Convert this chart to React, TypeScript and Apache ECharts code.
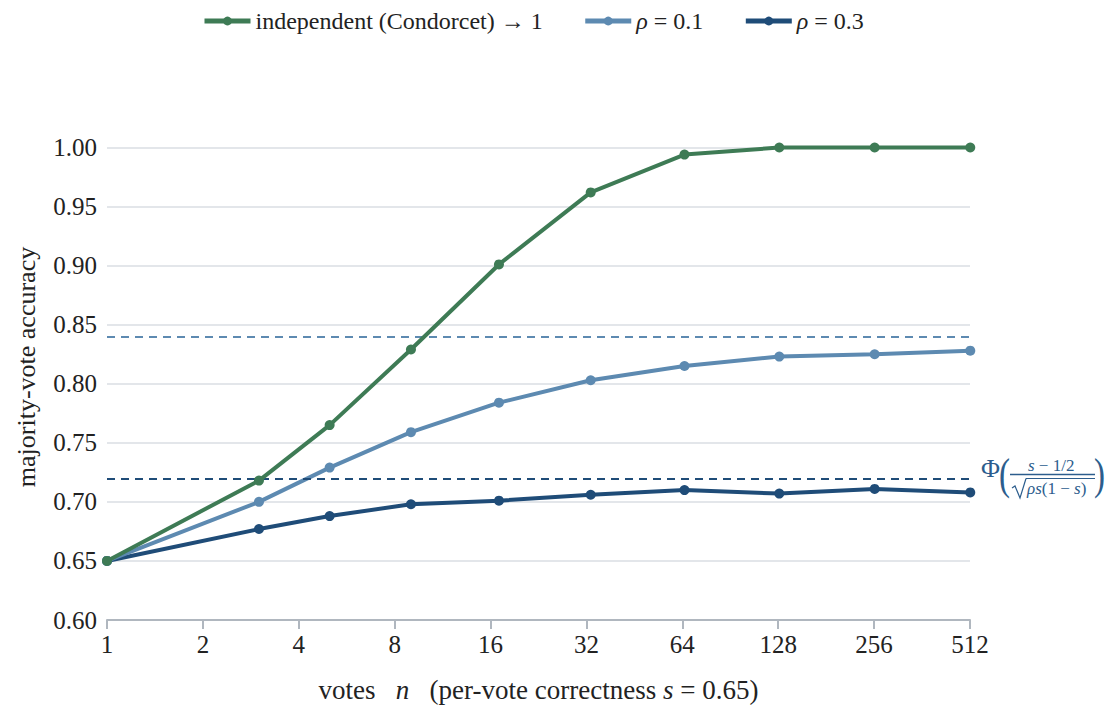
import React, { useEffect, useRef } from "react";
import * as echarts from "echarts";

const votes = [1, 3, 5, 9, 17, 33, 65, 129, 257, 513];
const independent = [0.65, 0.718, 0.765, 0.829, 0.901, 0.962, 0.994, 1.0, 1.0, 1.0];
const rho01 = [0.65, 0.7, 0.729, 0.759, 0.784, 0.803, 0.815, 0.823, 0.825, 0.828];
const rho03 = [0.65, 0.677, 0.688, 0.698, 0.701, 0.706, 0.71, 0.707, 0.711, 0.708];
const limit01 = 0.84;
const limit03 = 0.717;
const xTicks = [1, 2, 4, 8, 16, 32, 64, 128, 256, 512];
const seriesNames = ["independent (Condorcet) → 1", "ρ = 0.1", "ρ = 0.3"];
const yTitle = "majority-vote accuracy";

const GREEN = "#3e7b55";
const LIGHT = "#5d8ab1";
const DARK = "#1f4c78";
const FORMULA = "#2c5d8d";
const SERIF = "Liberation Serif";
const TXT = "#222";

export default function App() {
  const ref = useRef<HTMLDivElement>(null);
  useEffect(() => {
    if (!ref.current) return;
    const chart = echarts.init(ref.current, null, { renderer: "svg" });
    const mk = (vals: number[]) => votes.map((v, i) => [v, vals[i]]);
    const lineSeries = (name: string, vals: number[], color: string, z: number, limit?: number) => ({
      type: "line",
      name,
      data: mk(vals),
      symbol: "circle",
      symbolSize: 10,
      clip: false,
      z,
      lineStyle: { color, width: 4 },
      itemStyle: { color },
      markLine:
        limit === undefined
          ? undefined
          : {
              silent: true,
              symbol: "none",
              label: { show: false },
              lineStyle: { color, width: 1.8, type: [8, 6] },
              data: [{ yAxis: limit }],
            },
    });
    const italic = (size: number) => ({ fontFamily: SERIF, fontStyle: "italic", fontSize: size, color: TXT });
    const plain = (size: number) => ({ fontFamily: SERIF, fontSize: size, color: TXT });
    chart.setOption({
      animation: false,
      textStyle: { fontFamily: SERIF },
      legend: {
        top: 4,
        left: 197,
        itemWidth: 46,
        itemHeight: 11,
        itemGap: 40,
        lineStyle: { width: 5 },
        textStyle: {
          fontFamily: SERIF,
          fontSize: 24,
          color: TXT,
          rich: { i: italic(24), n: plain(24) },
        },
        formatter: (name: string) =>
          name.startsWith("ρ") ? `{i|ρ}{n|${name.slice(1)}}` : `{n|${name}}`,
        data: seriesNames,
      },
      grid: { left: 107, right: 139, top: 147.5, bottom: 88, containLabel: false },
      xAxis: {
        type: "log",
        logBase: 2,
        min: 1,
        max: 512,
        name: "{n|votes   }{i|n}{n|   (per-vote correctness }{i|s}{n| = 0.65)}",
        nameLocation: "middle",
        nameGap: 56,
        nameTextStyle: {
          fontFamily: SERIF,
          fontSize: 27,
          color: TXT,
          rich: { i: italic(27), n: plain(27) },
        },
        axisLine: { show: true, lineStyle: { color: "#b0b7bf", width: 2 } },
        axisTick: { show: true, length: 9, lineStyle: { color: "#b0b7bf", width: 2 } },
        axisLabel: {
          fontFamily: SERIF,
          fontSize: 25,
          color: TXT,
          margin: 12,
          formatter: (v: number) => {
            const r = Math.round(v);
            return xTicks.includes(r) ? String(r) : "";
          },
        },
        splitLine: { show: false },
        minorTick: { show: false },
      },
      yAxis: {
        type: "value",
        min: 0.6,
        max: 1.0,
        interval: 0.05,
        axisLine: { show: false },
        axisTick: { show: false },
        axisLabel: {
          fontFamily: SERIF,
          fontSize: 25,
          color: TXT,
          margin: 10,
          formatter: (v: number) => v.toFixed(2),
        },
        splitLine: { show: true, lineStyle: { color: "#e3e6ea", width: 2 } },
      },
      graphic: [
        {
          type: "text",
          x: 26,
          y: 367,
          rotation: Math.PI / 2,
          style: { text: yTitle, font: `26px ${SERIF}`, fill: TXT, align: "center", verticalAlign: "middle" },
        },
        { type: "text", left: 981, top: 455, style: { text: "Φ", font: `26px ${SERIF}`, fill: FORMULA } },
        { type: "text", left: 999, top: 452, scaleX: 0.75, style: { text: "(", font: `44px ${SERIF}`, fill: FORMULA } },
        { type: "text", left: 1094, top: 452, scaleX: 0.75, style: { text: ")", font: `44px ${SERIF}`, fill: FORMULA } },
        {
          type: "text",
          left: 1028,
          top: 457,
          style: {
            text: "{i|s} − 1/2",
            font: `17px ${SERIF}`,
            fill: FORMULA,
            rich: { i: { fontStyle: "italic", fontSize: 17, fontFamily: SERIF, fill: FORMULA } },
          },
        },
        { type: "line", shape: { x1: 1010, y1: 474.5, x2: 1095, y2: 474.5 }, style: { stroke: FORMULA, lineWidth: 1.4 } },
        { type: "line", shape: { x1: 1026, y1: 478.5, x2: 1095, y2: 478.5 }, style: { stroke: FORMULA, lineWidth: 1.1 } },
        { type: "polyline", shape: { points: [[1012, 488], [1015, 486], [1020, 498], [1026, 478.5]] }, style: { stroke: FORMULA, lineWidth: 1.2, fill: "none" } },
        {
          type: "text",
          left: 1027,
          top: 480,
          style: {
            text: "{i|ρs}(1 − {i|s})",
            font: `17px ${SERIF}`,
            fill: FORMULA,
            rich: { i: { fontStyle: "italic", fontSize: 17, fontFamily: SERIF, fill: FORMULA } },
          },
        },
      ],
      series: [
        lineSeries(seriesNames[0], independent, GREEN, 5),
        lineSeries(seriesNames[1], rho01, LIGHT, 4, limit01),
        lineSeries(seriesNames[2], rho03, DARK, 3, limit03),
      ],
    });
    return () => chart.dispose();
  }, []);
  return <div ref={ref} style={{ width: 1109, height: 708, position: "absolute", left: 0, top: 0 }} />;
}
